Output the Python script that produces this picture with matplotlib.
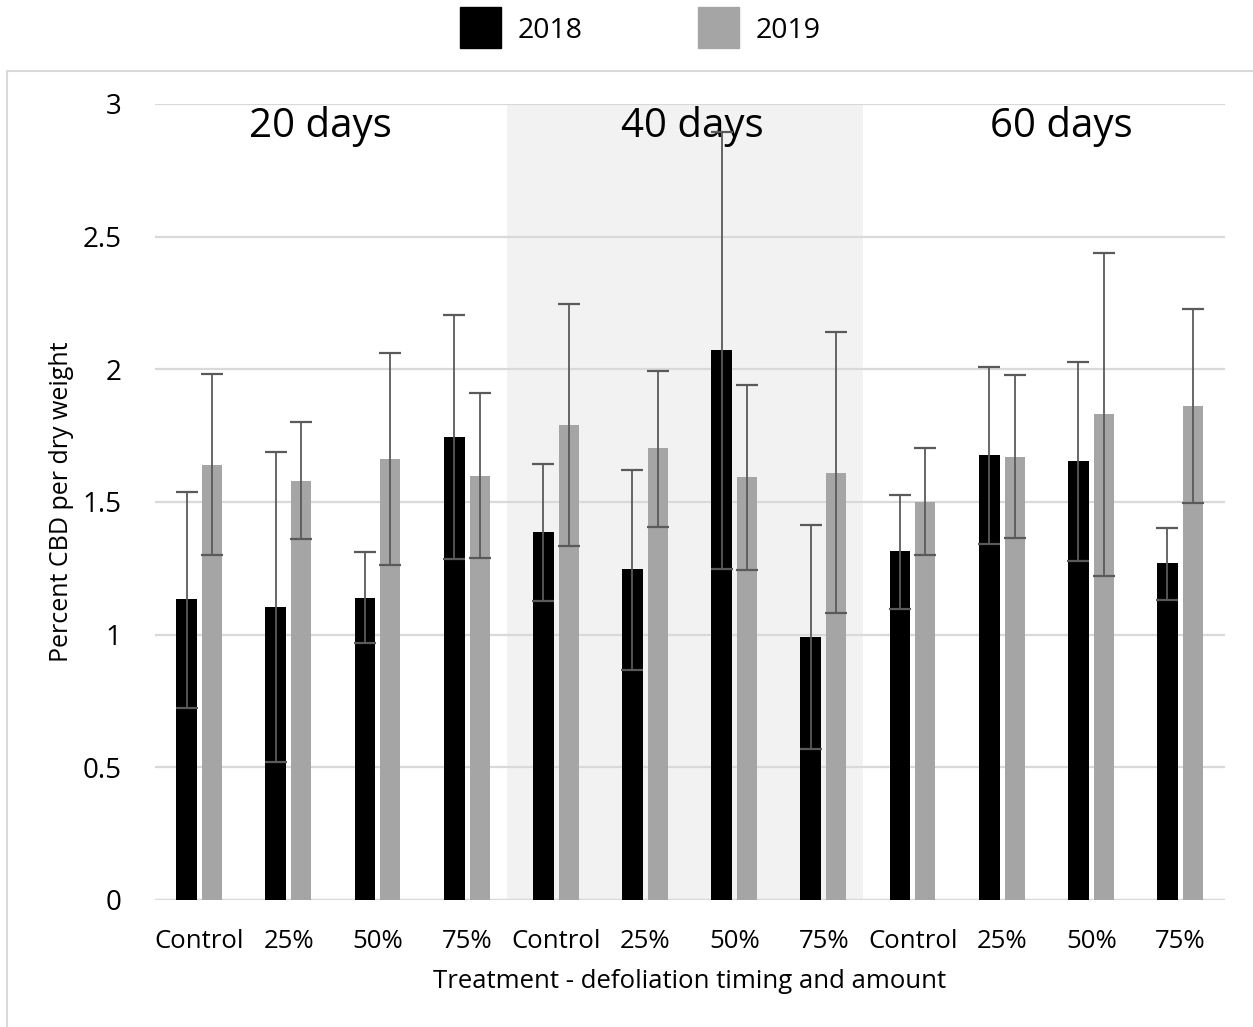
import numpy as np
import matplotlib
matplotlib.use("Agg")
import matplotlib.pyplot as plt
from matplotlib.patches import Rectangle
from matplotlib.lines import Line2D

plt.rcParams['font.family'] = ['Open Sans', 'DejaVu Sans']

treatments = ["Control", "25%", "50%", "75%"] * 3
periods = ["20 days", "40 days", "60 days"]
years = ["2018", "2019"]

# means and error bar ends (low, high)
cbd_2018 = [1.133, 1.105, 1.140, 1.746,
            1.388, 1.246, 2.071, 0.993,
            1.314, 1.676, 1.654, 1.269]
low_2018 = [0.724, 0.520, 0.967, 1.286,
            1.128, 0.866, 1.248, 0.569,
            1.097, 1.343, 1.277, 1.131]
high_2018 = [1.537, 1.688, 1.310, 2.203,
             1.643, 1.621, 2.895, 1.414,
             1.528, 2.008, 2.027, 1.403]

cbd_2019 = [1.640, 1.580, 1.661, 1.599,
            1.791, 1.703, 1.593, 1.611,
            1.500, 1.669, 1.830, 1.860]
low_2019 = [1.299, 1.359, 1.261, 1.290,
            1.334, 1.407, 1.242, 1.081,
            1.299, 1.364, 1.222, 1.495]
high_2019 = [1.983, 1.803, 2.061, 1.912,
             2.247, 1.994, 1.940, 2.140,
             1.703, 1.978, 2.438, 2.227]

W, H = 1253, 1027
fig = plt.figure(figsize=(W / 100, H / 100), dpi=100)
ax = fig.add_axes([155 / W, 1 - 900 / H, 1070 / W, 796 / H])

x = np.arange(len(treatments))
m18 = np.array(cbd_2018)
m19 = np.array(cbd_2019)
err18 = [m18 - np.array(low_2018), np.array(high_2018) - m18]
err19 = [m19 - np.array(low_2019), np.array(high_2019) - m19]

ax.axvspan(3.45, 7.44, color="#f2f2f2", zorder=0, lw=0)

ekw = dict(ecolor="#5a5a5a", elinewidth=1.3, capsize=8, capthick=1.6)
ax.bar(x - 0.145, m18, 0.235, color="black", yerr=err18, error_kw=ekw, zorder=3)
ax.bar(x + 0.14, m19, 0.225, color="#a5a5a5", yerr=err19, error_kw=ekw, zorder=3)

ax.set_xlim(-0.5, 11.5)
ax.set_ylim(0, 3)
ax.set_yticks([0, 0.5, 1, 1.5, 2, 2.5, 3])
ax.set_yticklabels(["0", "0.5", "1", "1.5", "2", "2.5", "3"])
ax.set_xticks(x)
ax.set_xticklabels(treatments)
ax.tick_params(length=0)
ax.tick_params(axis="y", pad=24, labelsize=20)
ax.tick_params(axis="x", pad=21, labelsize=18.5)
ax.grid(axis="y", color="#d9d9d9", lw=1.6, zorder=1)
ax.set_axisbelow(True)
for s in ax.spines.values():
    s.set_visible(False)
ax.axhline(0, color="#d9d9d9", lw=1.6, zorder=2)

ax.set_xlabel("Treatment - defoliation timing and amount", fontsize=18.5, labelpad=11)
ax.set_ylabel("Percent CBD per dry weight", fontsize=18, labelpad=6)

for px, label in zip([1.35, 5.53, 9.66], periods):
    ax.text(px, 2.877, label, fontsize=29, ha="center", va="baseline", zorder=2)

# chart area border
fig.add_artist(Line2D([7 / W, 7 / W, 1], [0, 1 - 71 / H, 1 - 71 / H],
                      transform=fig.transFigure, color="#d9d9d9", lw=1.5))

# legend
for x0, col, lab in [(460, "black", years[0]), (698, "#a5a5a5", years[1])]:
    fig.add_artist(Rectangle((x0 / W, 1 - 48 / H), 41 / W, 41 / H,
                             transform=fig.transFigure, color=col))
    fig.text((x0 + 58) / W, 1 - 31 / H, lab, fontsize=20.5, va="center", ha="left")

fig.savefig("out.png", dpi=100)
